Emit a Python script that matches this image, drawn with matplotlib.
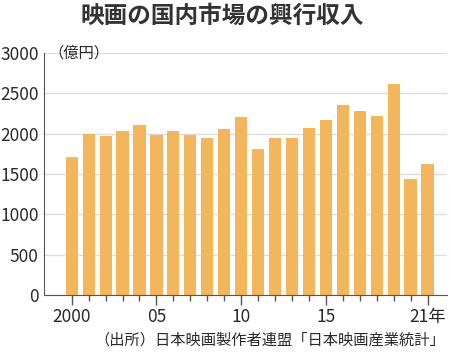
import matplotlib
matplotlib.use('Agg')
import matplotlib.pyplot as plt

plt.rcParams['font.family'] = ['Noto Sans CJK JP', 'DejaVu Sans']

# data (億円)
years = list(range(2000, 2022))
revenue = [1709, 2000, 1968, 2033, 2109, 1982, 2029, 1984, 1948, 2060,
           2207, 1812, 1952, 1942, 2070, 2171, 2355, 2286, 2225, 2612,
           1433, 1619]
yticks = [0, 500, 1000, 1500, 2000, 2500, 3000]
xtick_years = [2000, 2005, 2010, 2015, 2021]
xtick_labels = ['2000', '05', '10', '15', '21年']

fig = plt.figure(figsize=(4.5, 3.53), dpi=100)
ax = fig.add_axes([0.098, 0.164, 0.895, 0.686])

ax.bar(years, revenue, width=0.72, color='#F3B65C', zorder=2)

ax.set_ylim(0, 3000)
ax.set_xlim(1998.37, 2022.14)
ax.set_yticks(yticks)
ax.set_yticklabels([str(v) for v in yticks], fontsize=12.5, color='#2a2a2a')
ax.yaxis.grid(True, color='#dddddd', linewidth=1, zorder=0)
ax.tick_params(axis='y', length=0, pad=4)

ax.set_xticks(xtick_years)
ax.set_xticklabels(xtick_labels, fontsize=12.5, color='#2a2a2a')
ax.set_xticks(years, minor=True)
ax.tick_params(axis='x', which='major', length=7, width=1, color='#555555', pad=2)
ax.tick_params(axis='x', which='minor', length=4, width=1, color='#555555')

for s in ['top', 'right']:
    ax.spines[s].set_visible(False)
ax.spines['left'].set_color('#555555')
ax.spines['bottom'].set_color('#555555')

fig.text(0.493, 0.955, '映画の国内市場の興行収入', ha='center', va='center',
         fontsize=17, fontweight='bold', color='#333333')
ax.text(0.01, 1.0, '（億円）', transform=ax.transAxes, ha='left', va='center',
        fontsize=11, color='#2a2a2a')
fig.text(0.99, 0.037, '（出所）日本映画製作者連盟「日本映画産業統計」', ha='right',
         va='center', fontsize=11, color='#2a2a2a')

fig.savefig('out.png', dpi=100)
